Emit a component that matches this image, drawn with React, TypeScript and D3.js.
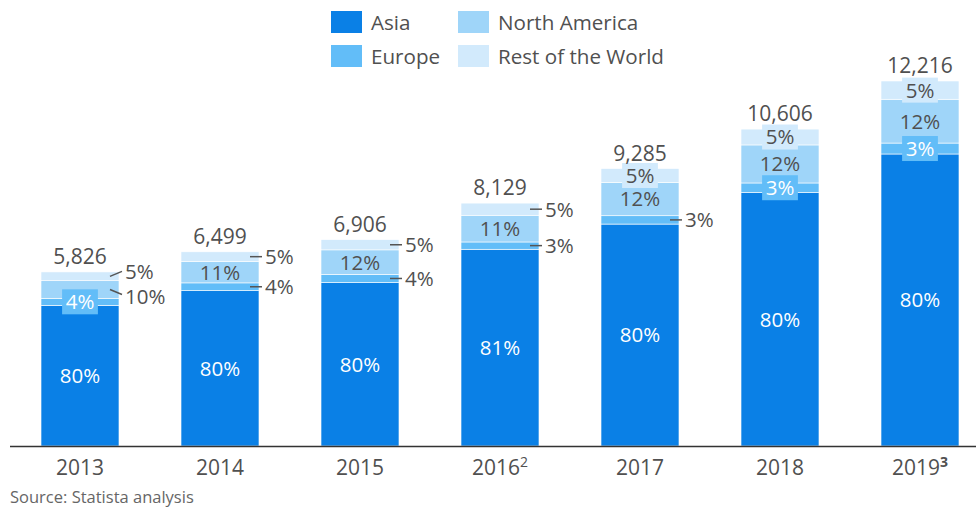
import React from "react";
import { scaleBand, scaleLinear, format } from "d3";

// chart data
const years = ["2013", "2014", "2015", "2016", "2017", "2018", "2019"];
const yearNotes = ["", "", "", "2", "", "", "3"];
const totals = [5826, 6499, 6906, 8129, 9285, 10606, 12216];
const series = ["Asia", "Europe", "North America", "Rest of the World"];
const asiaShare = [80, 80, 80, 81, 80, 80, 80];
const europeShare = [4, 4, 4, 3, 3, 3, 3];
const northAmericaShare = [10, 11, 12, 11, 12, 12, 12];
const restShare = [5, 5, 5, 5, 5, 5, 5];

const colors = ["#0a80e6", "#62bdf8", "#9fd5f9", "#d2eafc"];
const labelColors = ["#ffffff", "#ffffff", "#505050", "#505050"];
// how each segment label is placed: in = inside, box = inside with backing box, out = leader line
const labelModes = [
    ["in", "in", "in", "in", "in", "in", "in"],
    ["box", "out", "out", "out", "out", "box", "box"],
    ["out", "in", "in", "in", "in", "in", "in"],
    ["out", "out", "out", "out", "box", "box", "box"],
];

const width = 976;
const height = 508;
const font = "'Open Sans', sans-serif";
const textColor = "#505050";

const App = () => {
    const x = scaleBand<string>()
        .domain(years)
        .range([10, 990])
        .paddingInner(0.443)
        .paddingOuter(0.2215);
    const y = scaleLinear().domain([0, 12216]).range([446, 81]);
    const shares = [asiaShare, europeShare, northAmericaShare, restShare];
    const fmt = format(",");

    // rough label width, used for the backing boxes
    const textWidth = (s: string) => {
        let w = 0;
        for (const c of s) w += c === "%" ? 16.4 : 11.4;
        return w;
    };

    const bars = years.map((yr, i) => {
        const shareSum = shares.reduce((a, s) => a + s[i], 0);
        let cum = 0;
        const segs = shares.map((s, k) => {
            const v0 = (totals[i] * cum) / shareSum;
            cum += s[i];
            const v1 = (totals[i] * cum) / shareSum;
            return { k, y0: y(v0), y1: y(v1), label: s[i] + "%" };
        });
        return { yr, i, segs };
    });

    return (
        <svg width={width} height={height} style={{ position: "absolute", left: 0, top: 0 }} fontFamily={font}>
            {/* legend, two columns */}
            {series.map((s, k) => {
                const lx = k === 0 || k === 1 ? 331 : 458;
                const ly = k === 0 || k === 2 ? 11 : 45;
                return (
                    <g key={s}>
                        <rect x={lx} y={ly} width={31} height={22} fill={colors[k]} />
                        <text x={lx + 40} y={ly + 19} fontSize={20.6} fill={textColor}>{s}</text>
                    </g>
                );
            })}

            {bars.map(b => {
                const bx = x(b.yr) as number;
                const bw = x.bandwidth();
                const right = bx + bw;
                return (
                    <g key={b.yr}>
                        {b.segs.map(sg => (
                            <rect key={sg.k} x={bx} y={sg.y1} width={bw} height={sg.y0 - sg.y1}
                                fill={colors[sg.k]} stroke="#fff" strokeWidth={0.6} />
                        ))}
                        {b.segs.map(sg => {
                            const mode = labelModes[sg.k][b.i];
                            const cy = (sg.y0 + sg.y1) / 2;
                            const cx = bx + bw / 2;
                            if (mode === "out") {
                                let ty = cy;
                                let diag = false;
                                if (b.i === 0) {
                                    diag = true;
                                    ty = sg.k === 3 ? cy - 5 : cy + 7;
                                }
                                return (
                                    <g key={"l" + sg.k}>
                                        <line x1={right - 9} y1={cy} x2={right + 3} y2={diag ? (sg.k === 3 ? cy - 5 : cy + 5) : cy}
                                            stroke="#555" strokeWidth={1.5} />
                                        <text x={right + 6} y={ty} dy="0.36em" fontSize={20.5} fill={textColor}>{sg.label}</text>
                                    </g>
                                );
                            }
                            const tw = textWidth(sg.label);
                            return (
                                <g key={"l" + sg.k}>
                                    {mode === "box" && (
                                        <rect x={cx - tw / 2 - 4} y={cy - 12.5} width={tw + 8} height={25} fill={colors[sg.k]} />
                                    )}
                                    <text x={cx} y={cy} dy="0.36em" textAnchor="middle" fontSize={20.5} fill={labelColors[sg.k]}>{sg.label}</text>
                                </g>
                            );
                        })}
                        <text x={bx + bw / 2} y={y(totals[b.i]) - 8} textAnchor="middle" fontSize={21} fill={textColor}>
                            {fmt(totals[b.i])}
                        </text>
                        <text x={bx + bw / 2} y={475} textAnchor="middle" fontSize={21} fill={textColor}>
                            {b.yr}
                            {yearNotes[b.i] && (
                                <tspan fontSize={14} dy={-8} fontWeight={b.i === 6 ? "bold" : "normal"}>{yearNotes[b.i]}</tspan>
                            )}
                        </text>
                    </g>
                );
            })}

            <line x1={10} x2={976} y1={446.5} y2={446.5} stroke="#333" strokeWidth={1.5} />
            <text x={10} y={503} fontSize={16.5} fill="#666">Source: Statista analysis</text>
        </svg>
    );
};

export default App;
